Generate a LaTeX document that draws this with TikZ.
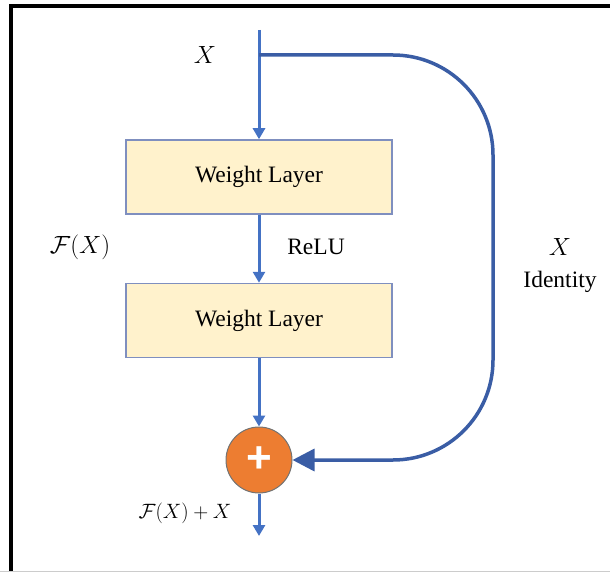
\documentclass[tikz,border=0pt]{standalone}
\usepackage{fontspec}
\setmainfont{Liberation Serif}
\newfontfamily\plusfont{Liberation Sans}
\usetikzlibrary{arrows.meta}
\definecolor{flowblue}{HTML}{4472C4}
\definecolor{skipblue}{HTML}{3A5DA5}
\definecolor{layerfill}{HTML}{FFF2CC}
\definecolor{layerline}{HTML}{7F8FBF}
\definecolor{addorange}{HTML}{ED7D31}

\begin{document}
\begin{tikzpicture}[x=1pt,y=-1pt,
    font=\fontsize{23.5}{28}\selectfont,
    layer/.style={draw=layerline,line width=1.5pt,fill=layerfill,minimum width=266pt,minimum height=74pt,inner sep=0pt},
    flow/.style={flowblue,line width=3pt,-{Triangle[length=11pt,width=12pt]}},
    skip/.style={skipblue,line width=3.5pt,rounded corners=100pt,-{Triangle[length=22pt,width=22pt]}}]
    
    \useasboundingbox (0,0) rectangle (610,572);
    \draw[line width=4pt] (11,572) -- (11,6.5) -- (610,6.5);
    \draw[black!20,line width=1.5pt] (0,571.5) -- (610,571.5);
    
    \coordinate (in) at (259,30);
    \coordinate (split) at (259,55);
    \node (x) at (205,55) {$X$};
    
    \node[layer] (w1) at (259,177) {Weight Layer};
    \node[layer] (w2) at (259,320.5) {Weight Layer};
    \node (relu) at (316,247) {ReLU};
    \node (fx) at (80,247) {$\mathcal{F}(X)$};
    
    \node[circle,fill=addorange,draw=black!55,line width=1pt,minimum size=66pt,inner sep=0pt,text=white] (add) at (259,460) {\fontsize{44}{44}\selectfont\plusfont\bfseries +};
    \coordinate (out) at (259,536);
    \node (fxx) at (185,513) {\fontsize{22}{26}\selectfont$\mathcal{F}(X)+X$};
    
    \node (idx) at (560,247) {$X$};
    \node (id) at (560,282) {Identity};
    
    \draw[flow] (in) -- (w1);
    \draw[flow] (w1) -- (w2);
    \draw[flow] (w2) -- (add);
    \draw[flow] (add) -- (out);
    \draw[skip] (split) -- (493,55) -- (493,460) -- (add);
\end{tikzpicture}
\end{document}
